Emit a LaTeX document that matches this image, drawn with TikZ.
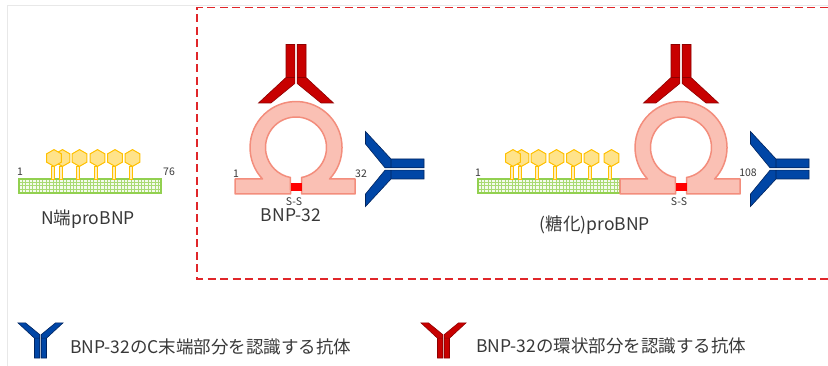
\documentclass[tikz,border=0pt]{standalone}
\usepackage{fontspec}
\setmainfont{Noto Sans CJK JP}
\usepackage{tikz}

\definecolor{txtgray}{HTML}{383838}
\definecolor{ntgreen}{HTML}{92D050}
\definecolor{ntfill}{HTML}{F4FBEC}
\definecolor{ntgrid}{HTML}{A9DA72}
\definecolor{hexfill}{HTML}{FFE38A}
\definecolor{hexline}{HTML}{FFC000}
\definecolor{loopfill}{HTML}{FAC0B4}
\definecolor{loopline}{HTML}{F38D7C}
\definecolor{ssred}{HTML}{FF0000}
\definecolor{redab}{HTML}{C80000}
\definecolor{redabline}{HTML}{8E0000}
\definecolor{blueab}{HTML}{0046A6}
\definecolor{blueabline}{HTML}{00245F}
\definecolor{boxred}{HTML}{E0262A}

\begin{document}
\begin{tikzpicture}[
   x=1pt,y=-1pt,
   every node/.style={text=txtgray,inner sep=0pt},
   title/.style={font=\fontsize{17.5}{21}\selectfont},
   num/.style={font=\fontsize{10.5}{12}\selectfont},
   key/.style={font=\fontsize{17.5}{21}\selectfont,anchor=west},
   ntbar/.style={draw=ntgreen,line width=1.5pt},
   ntmesh/.style={draw=ntgrid,line width=0.8pt},
   stalk/.style={draw=hexline,fill=hexfill!60,line width=0.8pt},
   hexa/.style={draw=hexline,fill=hexfill,line width=1pt},
   loopbody/.style={draw=loopline,fill=loopfill,line width=1.5pt,line join=round},
   redanti/.style={draw=redabline,fill=redab,line width=0.6pt},
   blueanti/.style={draw=blueabline,fill=blueab,line width=0.6pt},
   dashbox/.style={draw=boxred,line width=1.8pt,dash pattern=on 8pt off 4.5pt},
   frameline/.style={draw=black!9,line width=0.8pt},
   glycan/.pic={
      \draw[stalk] (-3,8) rectangle (0,21);
      \draw[hexa] (90:8.4) -- (150:8.4) -- (210:8.4) -- (270:8.4) -- (330:8.4) -- (30:8.4) -- cycle;
   },
   ntchain/.pic={
      \fill[ntfill] (0,0) rectangle (142,14);
      \draw[ntmesh] (0,14) grid[step=3.4pt] (142,0);
      \draw[ntbar] (0,0) rectangle (142,14);
   },
   antibody/.pic={
      \path[pic actions] (-10,0) rectangle (-1.2,33) (1.2,0) rectangle (10,33)
         (-10,33) -- (-1.2,33) -- (-1.2,39) -- (-25,58.5) -- (-37.5,58.5) -- cycle
         (10,33) -- (1.2,33) -- (1.2,39) -- (25,58.5) -- (37.5,58.5) -- cycle;
   },
   bnploop/.pic={
      \draw[loopbody] (-61,46.5) -- (-61,31.5) -- (-33.5,31.5)
         arc[start angle=136.8,end angle=403.2,radius=46] -- (59,31.5) -- (59,46.5)
         -- (5.5,46.5) -- (5.5,30) arc[start angle=79.6,end angle=-259.6,radius=30.5]
         -- (-5.5,46.5) -- cycle;
      \fill[ssred] (-5.5,35.5) rectangle (5.5,43.5);
   }]
\useasboundingbox (0,0) rectangle (828,366);
\draw[frameline] (7,366) -- (7,5) -- (828,5);
\draw[dashbox] (840,7.5) -- (197,7.5) -- (197,279) -- (840,279);

% N-terminal proBNP
\pic at (19,179) {ntchain};
\foreach \dx in {113.5,96,78.5,60.5,43.5,35}
   \pic at (19+\dx,158) {glycan};
\node[num] (nt1) at (20,172) {1};
\node[num] (nt76) at (169,172) {76};
\node[title] (ntname) at (88,219) {N端proBNP};

% BNP-32
\pic at (296,147.5) {bnploop};
\pic[redanti] at (296,44.5) {antibody};
\pic[blueanti,rotate=-90] at (424,169) {antibody};
\node[num] (bnp1) at (236,174) {1};
\node[num] (bnp32) at (361,174) {32};
\node[num] (bnpss) at (294,202) {S-S};
\node[title] (bnpname) at (291,215) {BNP-32};

% proBNP
\pic at (478,179) {ntchain};
\foreach \dx in {133.5,113.5,96,78.5,60.5,43.5,35}
   \pic at (478+\dx,158) {glycan};
\pic at (681,147.5) {bnploop};
\pic[redanti] at (681,44.5) {antibody};
\pic[blueanti,rotate=-90] at (809,169) {antibody};
\node[num] (pro1) at (478,173) {1};
\node[num] (pro108) at (748,173) {108};
\node[num] (pross) at (679,202) {S-S};
\node[title] (proname) at (595,225) {(糖化)proBNP};

% legend
\pic[blueanti,scale=0.6,rotate=180] at (40.5,358) {antibody};
\node[key] (keyblue) at (70,347) {BNP-32のC末端部分を認識する抗体};
\pic[redanti,scale=0.6,rotate=180] at (443.5,358) {antibody};
\node[key] (keyred) at (476,346) {BNP-32の環状部分を認識する抗体};
\end{tikzpicture}
\end{document}
